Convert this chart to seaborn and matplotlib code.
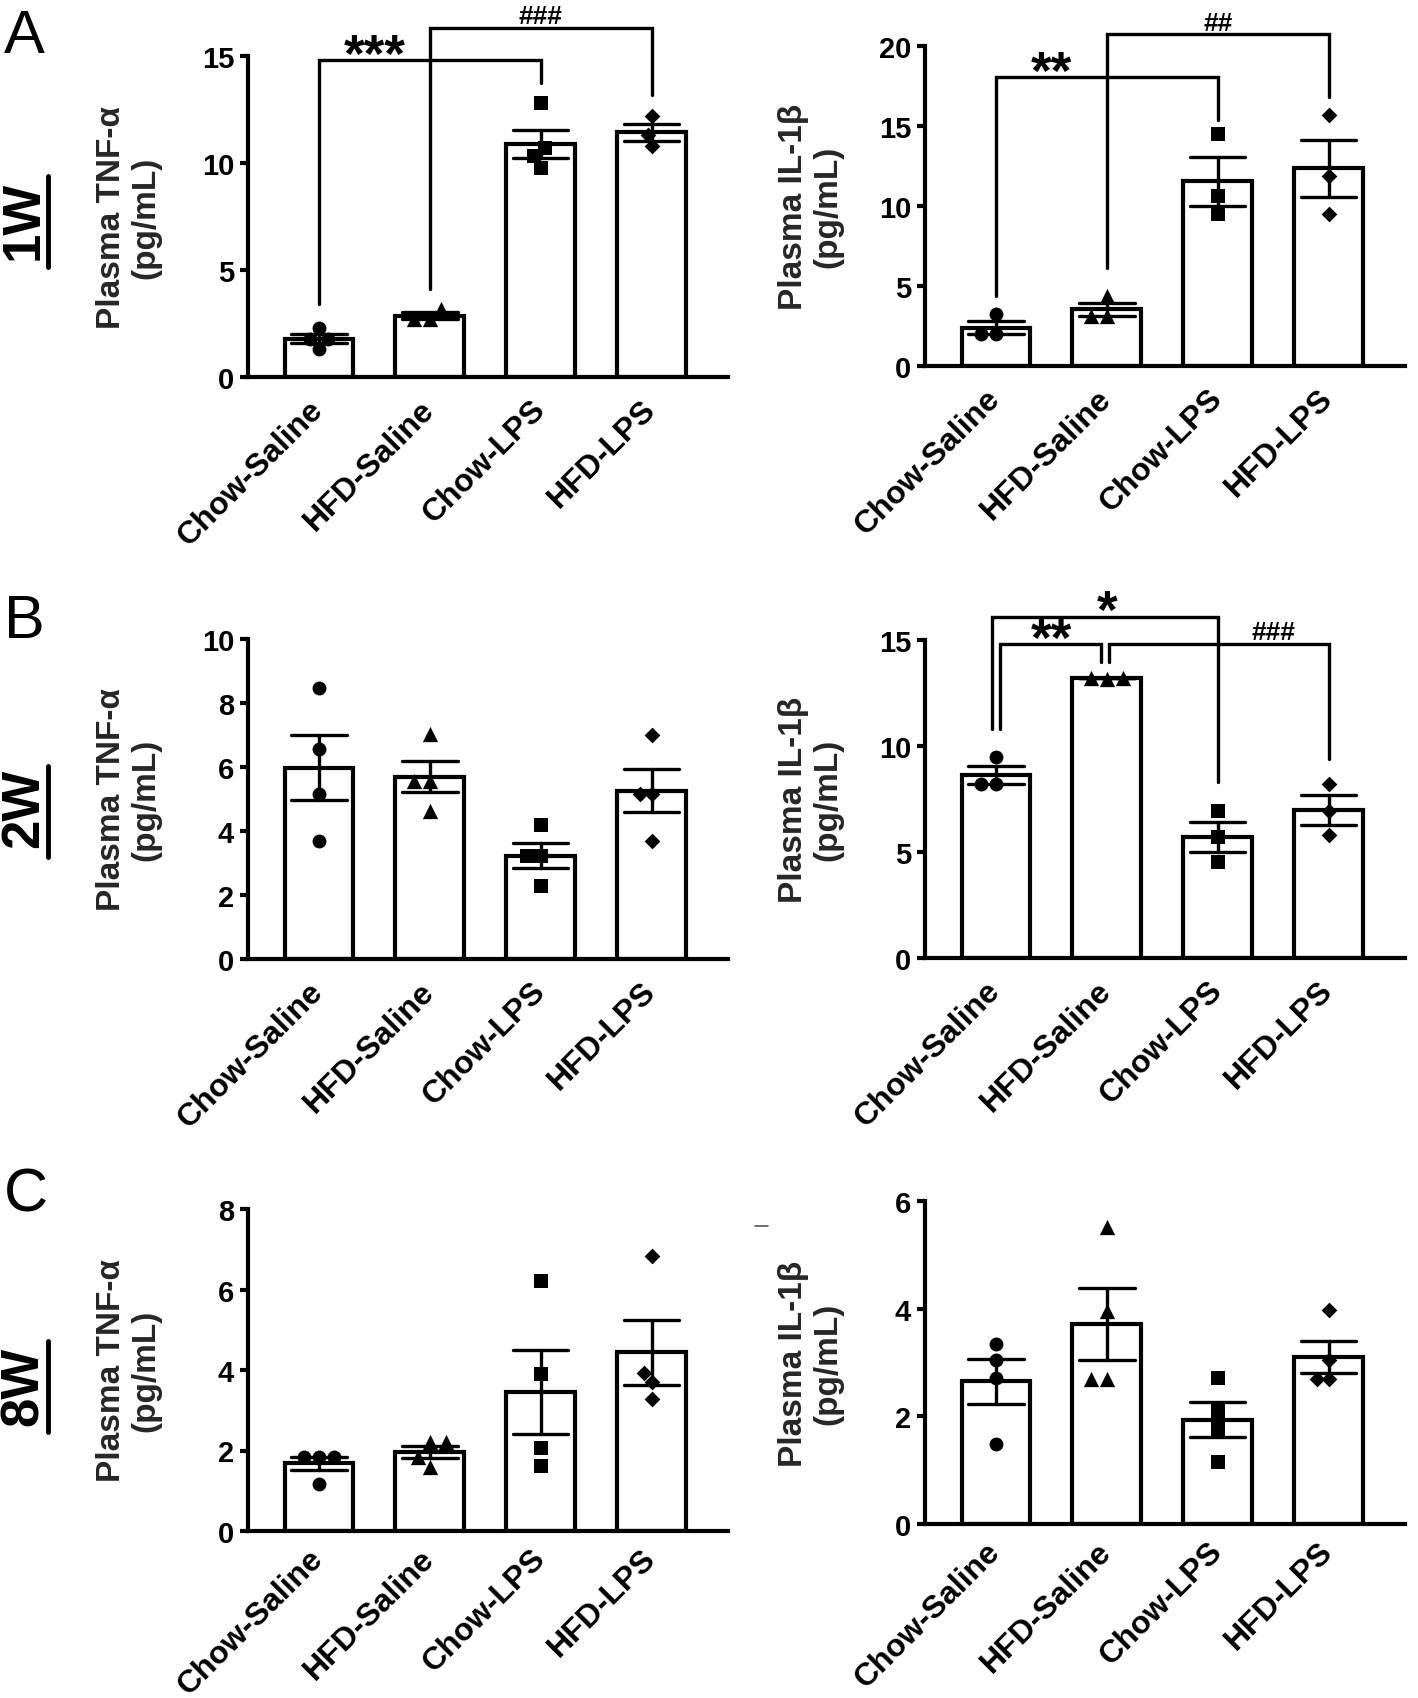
import numpy as np
import pandas as pd
import matplotlib
matplotlib.use("Agg")
import matplotlib.pyplot as plt
import seaborn as sns
from matplotlib.lines import Line2D

# ---------------- data ----------------
groups = ["Chow-Saline", "HFD-Saline", "Chow-LPS", "HFD-LPS"]

tnf_1w = {"Chow-Saline": [2.31, 1.79, 1.79, 1.29],
          "HFD-Saline": [3.19, 2.69, 2.69],
          "Chow-LPS": [12.8, 10.7, 10.33, 9.78],
          "HFD-LPS": [12.2, 11.3, 10.8]}
il1b_1w = {"Chow-Saline": [3.23, 1.98, 1.98],
           "HFD-Saline": [4.4, 3.1, 3.1],
           "Chow-LPS": [14.5, 10.6, 9.5],
           "HFD-LPS": [15.67, 11.9, 9.48]}
tnf_2w = {"Chow-Saline": [8.46, 6.56, 5.16, 3.70],
          "HFD-Saline": [7.03, 5.57, 5.57, 4.64],
          "Chow-LPS": [4.19, 3.21, 3.21, 2.29],
          "HFD-LPS": [7.01, 5.16, 5.16, 3.70]}
il1b_2w = {"Chow-Saline": [9.47, 8.21, 8.21],
           "HFD-Saline": [13.22, 13.18, 13.2],
           "Chow-LPS": [6.95, 5.70, 4.52],
           "HFD-LPS": [8.21, 6.95, 5.78]}
tnf_8w = {"Chow-Saline": [1.85, 1.85, 1.85, 1.18],
          "HFD-Saline": [2.2, 2.2, 1.85, 1.6],
          "Chow-LPS": [6.2, 3.91, 2.05, 1.62],
          "HFD-LPS": [6.84, 3.92, 3.71, 3.29]}
il1b_8w = {"Chow-Saline": [3.34, 3.05, 2.72, 1.48],
           "HFD-Saline": [5.52, 3.96, 2.69, 2.69],
           "Chow-LPS": [2.72, 2.10, 1.76, 1.16],
           "HFD-LPS": [3.97, 3.04, 2.70, 2.70]}

ylabel_tnf = "Plasma TNF-\u03b1\n(pg/mL)"
ylabel_il = "Plasma IL-1\u03b2\n(pg/mL)"

# ---------------- style ----------------
sns.set_theme(style="ticks")
plt.rcParams['font.family'] = ['Liberation Sans', 'DejaVu Sans']
plt.rcParams['font.weight'] = 'bold'
plt.rcParams['axes.labelweight'] = 'bold'

W, H = 1418, 1699
fig = plt.figure(figsize=(W / 100, H / 100), dpi=100)

markers = ['o', '^', 's', 'D']
msizes = [10, 11, 9.5, 8]
LW = 3.0


def rect(xpx, top_px, bottom_px, width_px=480):
    return [xpx / W, 1 - bottom_px / H, width_px / W, (bottom_px - top_px) / H]


def panel(r, data, ymax, ystep, ylabel, label_x, xpad=20):
    ax = fig.add_axes(r)
    df = pd.DataFrame([(g, v) for g in groups for v in data[g]], columns=['group', 'value'])
    sns.barplot(data=df, x='group', y='value', order=groups, errorbar='se', capsize=0.5,
                color='white', saturation=1, edgecolor='black', linewidth=LW, width=0.62,
                err_kws={'color': 'black', 'linewidth': 2.4}, ax=ax)
    for g, m, s in zip(groups, markers, msizes):
        sub = df[df['group'] == g]
        sns.swarmplot(data=sub, x='group', y='value', order=groups, marker=m, size=s,
                      color='black', ax=ax, zorder=4, warn_thresh=1)
    ax.set_xlim(-0.64, 3.69)
    ax.set_ylim(0, ymax)
    ax.set_yticks(np.arange(0, ymax + 0.01, ystep))
    ax.set_yticklabels([f"{int(t)}" for t in np.arange(0, ymax + 0.01, ystep)])
    ax.set_xticks(range(len(groups)))
    ax.set_xticklabels(groups, rotation=45, ha='right', va='center', rotation_mode='anchor')
    ax.set_xlabel('')
    ax.set_ylabel(ylabel, fontsize=24, linespacing=1.15)
    ax.yaxis.set_label_coords(label_x, 0.5)
    for s in ['top', 'right']:
        ax.spines[s].set_visible(False)
    for s in ['left', 'bottom']:
        ax.spines[s].set_linewidth(LW)
        ax.spines[s].set_color('black')
    ax.tick_params(axis='y', length=6, width=LW, direction='out', labelsize=21, pad=4, colors='black')
    ax.tick_params(axis='x', length=0, labelsize=23, pad=xpad, colors='black')
    ax.set_facecolor('none')
    return ax


def bracket(ax, x1, x2, ytop, y1, y2):
    ax.plot([x1, x1, x2, x2], [y1, ytop, ytop, y2], color='black', lw=2.4,
            clip_on=False, solid_joinstyle='miter', zorder=5)


def mark(ax, x, y, s, size, weight='bold'):
    ax.text(x, y, s, ha='center', va='baseline', fontsize=size, fontweight=weight,
            clip_on=False, color='black')


# Row A
axA1 = panel(rect(248, 57, 378), tnf_1w, 15, 5, ylabel_tnf, -0.18)
bracket(axA1, 0, 2, 14.8, 3.4, 13.75)
bracket(axA1, 1, 3, 16.3, 4.1, 13.16)
mark(axA1, 0.5, 14.3, "***", 38)
mark(axA1, 2.0, 16.55, "###", 19)

axA2 = panel(rect(925, 47, 367), il1b_1w, 20, 5, ylabel_il, -0.17)
bracket(axA2, 0, 2, 18.05, 4.4, 15.4)
bracket(axA2, 1, 3, 20.75, 6.15, 16.8)
mark(axA2, 0.5, 17.4, "**", 38)
mark(axA2, 2.0, 21.0, "##", 19)

# Row B
axB1 = panel(rect(248, 640, 960), tnf_2w, 10, 2, ylabel_tnf, -0.18)
axB2 = panel(rect(925, 641, 959), il1b_2w, 15, 5, ylabel_il, -0.17)
bracket(axB2, -0.04, 2, 16.08, 10.8, 8.29)
bracket(axB2, 0.04, 0.95, 14.8, 10.8, 13.94)
bracket(axB2, 1.02, 3, 14.8, 13.94, 9.39)
mark(axB2, 1.0, 15.6, "*", 38)
mark(axB2, 0.5, 14.3, "**", 38)
mark(axB2, 2.5, 15.05, "###", 19)

# Row C
axC1 = panel(rect(248, 1210, 1532), tnf_8w, 8, 2, ylabel_tnf, -0.18, xpad=16)
axC2 = panel(rect(925, 1202, 1525), il1b_8w, 6, 2, ylabel_il, -0.17, xpad=16)

# Panel letters
for txt, ybase in [("A", 53), ("B", 638), ("C", 1212)]:
    fig.text(4 / W, 1 - ybase / H, txt, fontsize=44, fontweight='normal',
             ha='left', va='baseline', color='black')

# Row labels with underline (rotated)
for txt, yc, y0, y1 in [("1W", 220, 177, 268), ("2W", 808, 767, 858), ("8W", 1386, 1342, 1433)]:
    fig.text(24 / W, 1 - yc / H, txt, fontsize=38, fontweight='bold', rotation=90,
             ha='center', va='center', color='black')
    fig.add_artist(Line2D([48 / W, 48 / W], [1 - y0 / H, 1 - y1 / H], color='black', lw=3.5))

# small stray mark next to bottom-right panel label
fig.add_artist(Line2D([755 / W, 768 / W], [1 - 1227 / H, 1 - 1227 / H], color='#555555', lw=1.2))

fig.savefig("out.png", dpi=100, facecolor='white')
